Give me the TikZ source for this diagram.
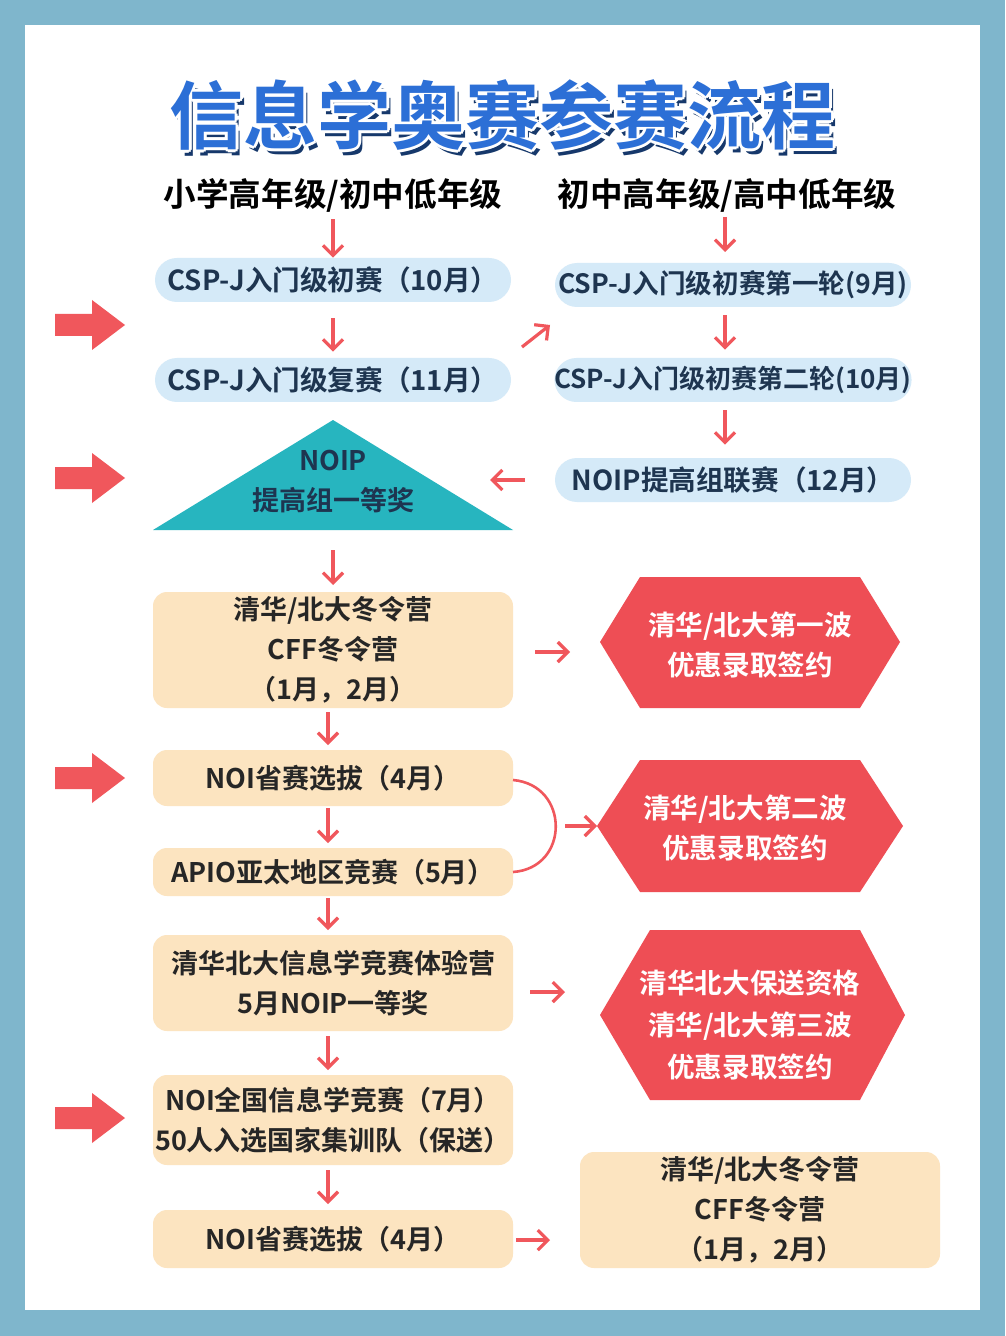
\documentclass[tikz,border=0pt]{standalone}
\usepackage{fontspec}
\newfontfamily\cjk{Noto Sans CJK SC}[BoldFont={* Bold}]
\usetikzlibrary{arrows.meta}
\definecolor{frame}{HTML}{7FB6CC}
\definecolor{pill}{HTML}{D5EAF8}
\definecolor{beige}{HTML}{FCE4C0}
\definecolor{hexred}{HTML}{EE4E55}
\definecolor{arr}{HTML}{F0575C}
\definecolor{teal}{HTML}{27B5BF}
\definecolor{titleblue}{HTML}{2C6FD6}
\definecolor{txtblue}{HTML}{1E3550}
\tikzset{
  x=0.5pt,y=-0.5pt,
  every node/.style={font=\cjk\bfseries},
  pillbox/.style={fill=pill,rounded corners=11pt,minimum height=22pt,text=txtblue,font=\cjk\bfseries\fontsize{13.8}{15}\selectfont,inner sep=0},
  beigebox/.style={fill=beige,rounded corners=7pt,text=black!85,font=\cjk\bfseries\fontsize{13.5}{20}\selectfont,align=center,inner sep=0},
  hextxt/.style={text=white,font=\cjk\bfseries\fontsize{13.8}{20}\selectfont,align=center},
  sarrow/.style={draw=arr,line width=1.6pt,-{Straight Barb[length=5pt,width=10pt]}}
}
\newcommand{\bigarr}[1]{\fill[arr] (55,#1-11)--(92,#1-11)--(92,#1-25)--(125,#1)--(92,#1+25)--(92,#1+11)--(55,#1+11)--cycle;}
\begin{document}
\begin{tikzpicture}
\useasboundingbox (0,0) rectangle (1005,1336);
\fill[frame] (0,0) rectangle (1005,1336);
\fill[white] (25,25) rectangle (980,1310);
% title
\def\ttl{\cjk\bfseries\fontsize{37}{40}\selectfont 信息学奥赛参赛流程}
\node[text=titleblue!50!black] at (506,121) {\ttl};
\foreach \dx/\dy in {-3/0,3/0,0/-3,0/3,-2/-2,2/2,-2/2,2/-2}
  \node[text=white] at (502+\dx,115+\dy) {\ttl};
\node[text=titleblue] (title) at (502,115) {\ttl};
% headers
\node[font=\cjk\bfseries\fontsize{16.3}{18}\selectfont] (h1) at (333,195) {小学高年级/初中低年级};
\node[font=\cjk\bfseries\fontsize{16.3}{18}\selectfont] (h2) at (727,195) {初中高年级/高中低年级};
% left pills
\node[pillbox,minimum width=178pt] (l1) at (333,280) {CSP-J入门级初赛（10月）};
\node[pillbox,minimum width=178pt] (l2) at (333,380) {CSP-J入门级复赛（11月）};
% right pills
\node[pillbox,minimum width=178pt,font=\cjk\bfseries\fontsize{13.3}{15}\selectfont] (r1) at (733,285) {CSP-J入门级初赛第一轮(9月)};
\node[pillbox,minimum width=178pt,font=\cjk\bfseries\fontsize{13}{15}\selectfont] (r2) at (733,380) {CSP-J入门级初赛第二轮(10月)};
\node[pillbox,minimum width=178pt] (r3) at (733,480) {NOIP提高组联赛（12月）};
% triangle
\fill[teal] (333,420)--(513,530)--(153,530)--cycle;
\node[text=txtblue,font=\cjk\bfseries\fontsize{13.5}{20}\selectfont,align=center] (tri) at (333,482) {NOIP\\提高组一等奖};
% beige boxes
\node[beigebox,minimum width=180pt,minimum height=58pt] (b1) at (333,650) {清华/北大冬令营\\CFF冬令营\\（1月，2月）};
\node[beigebox,minimum width=180pt,minimum height=28pt] (b2) at (333,778) {NOI省赛选拔（4月）};
\node[beigebox,minimum width=180pt,minimum height=24pt] (b3) at (333,872) {APIO亚太地区竞赛（5月）};
\node[beigebox,minimum width=180pt,minimum height=48pt] (b4) at (333,983) {清华北大信息学竞赛体验营\\5月NOIP一等奖};
\node[beigebox,minimum width=180pt,minimum height=45pt] (b5) at (333,1120) {NOI全国信息学竞赛（7月）\\50人入选国家集训队（保送）};
\node[beigebox,minimum width=180pt,minimum height=29pt] (b6) at (333,1239) {NOI省赛选拔（4月）};
\node[beigebox,minimum width=180pt,minimum height=58pt] (b7) at (760,1210) {清华/北大冬令营\\CFF冬令营\\（1月，2月）};
% hexagons
\fill[hexred] (600,642)--(640,577)--(860,577)--(900,642)--(860,708)--(640,708)--cycle;
\node[hextxt] (x1) at (750,645) {清华/北大第一波\\优惠录取签约};
\fill[hexred] (597,826)--(640,760)--(860,760)--(903,826)--(860,892)--(640,892)--cycle;
\node[hextxt] (x2) at (745,828) {清华/北大第二波\\优惠录取签约};
\fill[hexred] (600,1015)--(650,930)--(860,930)--(905,1015)--(860,1100)--(650,1100)--cycle;
\node[hextxt,font=\cjk\bfseries\fontsize{13.8}{21}\selectfont] (x3) at (750,1025) {清华北大保送资格\\清华/北大第三波\\优惠录取签约};
% big arrows
\bigarr{325}\bigarr{478}\bigarr{778}\bigarr{1118}
% small arrows
\draw[sarrow] (h1)--(l1);
\draw[sarrow] (725,217)--(725,252);
\draw[sarrow,shorten <=8pt,shorten >=3pt] (l1)--(l2);
\draw[sarrow,shorten <=4pt,shorten >=4pt] ([xshift=-4pt]r1.south)--([xshift=-4pt]r2.north);
\draw[sarrow,shorten <=4pt,shorten >=6.5pt] ([xshift=-4pt]r2.south)--([xshift=-4pt]r3.north);
\draw[sarrow] (333,550)--(333,585);
\draw[sarrow] (328,712)--(328,745);
\draw[sarrow] (328,808)--(328,843);
\draw[sarrow] (328,898)--(328,930);
\draw[sarrow] (328,1036)--(328,1070);
\draw[sarrow] (328,1170)--(328,1204);
\draw[sarrow] (522,347)--(550,325);
\draw[sarrow] (525,480)--(490,480);
\draw[sarrow] (535,652)--(570,652);
\draw[sarrow] (565,826)--(597,826);
\draw[sarrow] (530,992)--(565,992);
\draw[sarrow] (516,1240)--(550,1240);
\draw[arr,line width=1.3pt] (513,780) .. controls (570,785) and (570,868) .. (513,872);
\end{tikzpicture}
\end{document}
